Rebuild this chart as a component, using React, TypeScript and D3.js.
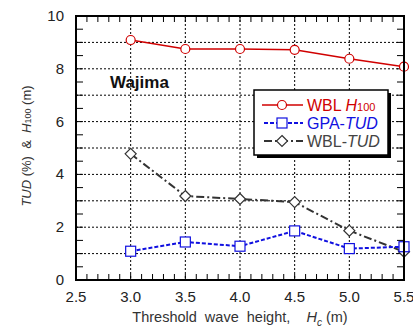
import React from "react";
import * as d3 from "d3";

const thresholds = [3.0, 3.5, 4.0, 4.5, 5.0, 5.5];
const wblH100 = [9.09, 8.75, 8.75, 8.72, 8.38, 8.08];
const gpaTud = [1.09, 1.44, 1.28, 1.86, 1.19, 1.26];
const wblTud = [4.78, 3.18, 3.07, 2.95, 1.87, 1.07];
const xTicks = [2.5, 3.0, 3.5, 4.0, 4.5, 5.0, 5.5];
const yTicks = [0, 2, 4, 6, 8, 10];

const W = 413, H = 332;
const L = 76, R = 404, T = 16, B = 280;
const NB = "\u00a0";

export default function App() {
  const x = d3.scaleLinear().domain([2.5, 5.5]).range([L, R]);
  const y = d3.scaleLinear().domain([0, 10]).range([B, T]);
  const line = d3.line<number>().x((_, i) => x(thresholds[i])).y((d) => y(d));
  const font = "Arial, 'Liberation Sans', Helvetica, sans-serif";

  const minorX = d3.range(25, 56).map((v) => v / 10);
  const minorY = d3.range(0, 21).map((v) => v / 2);
  const gridX = [3.0, 3.5, 4.0, 4.5, 5.0];
  const gridY = d3.range(1, 10);

  const red = "#d00000", blue = "#1010e0", dark = "#333";
  const diamond = (cx: number, cy: number, r: number) =>
    `M${cx},${cy - r}L${cx + r},${cy}L${cx},${cy + r}L${cx - r},${cy}Z`;

  const lgX = 254, lgY = 90, lgW = 134, lgH = 65;

  return (
    <svg width={W} height={H} style={{ position: "absolute", left: 0, top: 0 }} fontFamily={font}>
      <rect width={W} height={H} fill="#fff" />
      {/* grid */}
      {gridX.map((v) => (
        <line key={"gx" + v} x1={x(v)} x2={x(v)} y1={T} y2={B} stroke="#000" strokeWidth={1} strokeDasharray="2,2" />
      ))}
      {gridY.map((v) => (
        <line key={"gy" + v} x1={L} x2={R} y1={y(v)} y2={y(v)} stroke="#000" strokeWidth={1} strokeDasharray="2,2" />
      ))}
      {/* minor ticks */}
      {minorX.map((v) => (
        <g key={"mx" + v}>
          <line x1={x(v)} x2={x(v)} y1={B} y2={B - 6} stroke="#000" strokeWidth={1} />
          <line x1={x(v)} x2={x(v)} y1={T} y2={T + 6} stroke="#000" strokeWidth={1} />
        </g>
      ))}
      {minorY.map((v) => (
        <g key={"my" + v}>
          <line x1={L} x2={L + 7} y1={y(v)} y2={y(v)} stroke="#000" strokeWidth={1} />
          <line x1={R} x2={R - 7} y1={y(v)} y2={y(v)} stroke="#000" strokeWidth={1} />
        </g>
      ))}
      {/* series */}
      <path d={line(wblTud) || ""} fill="none" stroke={dark} strokeWidth={2} strokeDasharray="8,3,2,3" />
      <path d={line(gpaTud) || ""} fill="none" stroke={blue} strokeWidth={2} strokeDasharray="4,2" />
      <path d={line(wblH100) || ""} fill="none" stroke={red} strokeWidth={1.5} />
      {wblTud.map((v, i) => (
        <path key={"d" + i} d={diamond(x(thresholds[i]), y(v), 5.5)} fill="#fff" stroke={dark} strokeWidth={1.2} />
      ))}
      {gpaTud.map((v, i) => (
        <rect key={"s" + i} x={x(thresholds[i]) - 5} y={y(v) - 5} width={10} height={10} fill="#fff" stroke={blue} strokeWidth={1.2} />
      ))}
      {wblH100.map((v, i) => (
        <circle key={"c" + i} cx={x(thresholds[i])} cy={y(v)} r={4.5} fill="#fff" stroke={red} strokeWidth={1.2} />
      ))}
      {/* frame */}
      <rect x={L} y={T} width={R - L} height={B - T} fill="none" stroke="#000" strokeWidth={2} />
      {/* tick labels */}
      {xTicks.map((v) => (
        <text key={"xt" + v} x={x(v)} y={302} textAnchor="middle" fontSize={15} fill="#222">
          {v.toFixed(1)}
        </text>
      ))}
      {yTicks.map((v) => (
        <text key={"yt" + v} x={64} y={y(v) + 5} textAnchor="end" fontSize={15} fill="#222">
          {v}
        </text>
      ))}
      {/* axis titles */}
      <text x={240} y={322} textAnchor="middle" fontSize={14.5} fill="#333">
        {`Threshold${NB}${NB}wave${NB}${NB}height,${NB}${NB}${NB}${NB}`}
        <tspan fontStyle="italic">H</tspan>
        <tspan fontStyle="italic" fontSize={10} dy={4}>c</tspan>
        <tspan dy={-4}>{`${NB}(m)`}</tspan>
      </text>
      <text transform={`translate(31,146) rotate(-90)`} textAnchor="middle" fontSize={13} fill="#333">
        <tspan fontStyle="italic">TUD</tspan>
        <tspan>{`${NB}(%)${NB}${NB}&${NB}${NB}`}</tspan>
        <tspan fontStyle="italic">H</tspan>
        <tspan fontSize={9}>100</tspan>
        <tspan>{`${NB}(m)`}</tspan>
      </text>
      {/* annotation */}
      <text x={110} y={88} fontSize={17} fontWeight="bold" fill="#111">Wajima</text>
      {/* legend */}
      <rect x={lgX + 3} y={lgY + 3} width={lgW} height={lgH} fill="#000" />
      <rect x={lgX} y={lgY} width={lgW} height={lgH} fill="#fff" stroke="#000" strokeWidth={1.5} />
      <line x1={262} x2={303} y1={105} y2={105} stroke={red} strokeWidth={1.5} />
      <circle cx={282} cy={105} r={4.5} fill="#fff" stroke={red} strokeWidth={1.2} />
      <text x={307} y={110.5} fontSize={16} fill={red}>
        WBL <tspan fontStyle="italic">H</tspan><tspan fontSize={11}>100</tspan>
      </text>
      <line x1={264} x2={303} y1={123} y2={123} stroke={blue} strokeWidth={2} strokeDasharray="4,2" />
      <rect x={277} y={118} width={10} height={10} fill="#fff" stroke={blue} strokeWidth={1.2} />
      <text x={307} y={128.5} fontSize={16} fill={blue}>
        GPA-<tspan fontStyle="italic">TUD</tspan>
      </text>
      <line x1={264} x2={303} y1={141} y2={141} stroke={dark} strokeWidth={2} strokeDasharray="8,3,2,3" />
      <path d={diamond(282, 141, 5.5)} fill="#fff" stroke={dark} strokeWidth={1.2} />
      <text x={307} y={146.5} fontSize={16} fill="#444">
        WBL-<tspan fontStyle="italic">TUD</tspan>
      </text>
    </svg>
  );
}
